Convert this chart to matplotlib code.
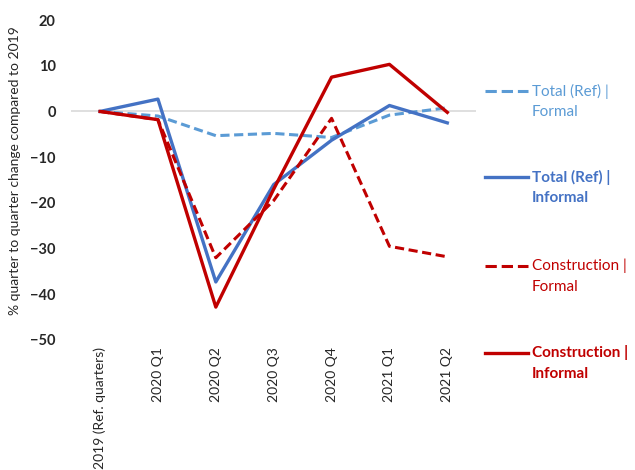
import matplotlib.pyplot as plt
from matplotlib.lines import Line2D

plt.rcParams['font.family'] = ['Lato', 'DejaVu Sans']

quarters = ['2019 (Ref. quarters)', '2020 Q1', '2020 Q2', '2020 Q3', '2020 Q4', '2021 Q1', '2021 Q2']
total_formal = [0, -1.0, -5.3, -4.8, -5.7, -0.8, 0.8]
total_informal = [0, 2.7, -37.3, -16.0, -6.3, 1.3, -2.5]
constr_formal = [0, -1.8, -32.0, -19.5, -1.5, -29.5, -31.8]
constr_informal = [0, -1.8, -42.8, -17.0, 7.5, 10.3, -0.2]

light_blue = '#5B9BD5'
blue = '#4472C4'
red = '#C00000'

fig = plt.figure(figsize=(6.35, 4.70), dpi=100)
ax = fig.add_axes([0.112, 0.2766, 0.638, 0.6808])

x = range(len(quarters))
ax.axhline(0, color='#D9D9D9', lw=1.2, zorder=1)
l1, = ax.plot(x, total_formal, color=light_blue, lw=2.2, ls=(0, (3, 1.5)))
l2, = ax.plot(x, total_informal, color=blue, lw=2.4)
l3, = ax.plot(x, constr_formal, color=red, lw=2.2, ls=(0, (3, 1.5)))
l4, = ax.plot(x, constr_informal, color=red, lw=2.4)

ax.set_xlim(-0.5, len(quarters) - 0.5)
ax.set_ylim(-50, 20)
ax.set_yticks(range(-50, 21, 10))
for s in ax.spines.values():
    s.set_visible(False)
ax.tick_params(axis='both', length=0)
ax.tick_params(axis='y', labelsize=10.5, labelcolor='#262626', pad=11)
for t in ax.get_yticklabels():
    t.set_fontweight('bold')
ax.set_xticks(list(x))
ax.set_xticklabels(quarters, rotation=90, fontsize=10, color='#262626', va='top')
ax.tick_params(axis='x', pad=5)
ax.set_ylabel('% quarter to quarter change compared to 2019', fontsize=10, color='#262626')
ax.yaxis.set_label_coords(-0.123, 0.53)

# legend drawn by hand: handle sits on the first line of a two-line label
labels = [('Total (Ref) |', 'Formal'), ('Total (Ref) |', 'Informal'),
          ('Construction |', 'Formal'), ('Construction |', 'Informal')]
handles = [l1, l2, l3, l4]
text_colors = [light_blue, blue, red, red]
weights = ['normal', 'bold', 'normal', 'bold']
entry_y = [91, 177, 266, 353]  # pixels from top
H = 470.0
W = 635.0
for h, lab, c, w, yp in zip(handles, labels, text_colors, weights, entry_y):
    yf = 1 - yp / H
    fig.add_artist(Line2D([485 / W, 528 / W], [yf, yf], transform=fig.transFigure,
                          color=h.get_color(), lw=h.get_linewidth(), ls=h.get_linestyle()))
    fig.text(532 / W, yf, lab[0], color=c, fontweight=w, fontsize=11, va='center', ha='left')
    fig.text(532 / W, 1 - (yp + 21) / H, lab[1], color=c, fontweight=w, fontsize=11, va='center', ha='left')

fig.savefig('out.png', dpi=100)
